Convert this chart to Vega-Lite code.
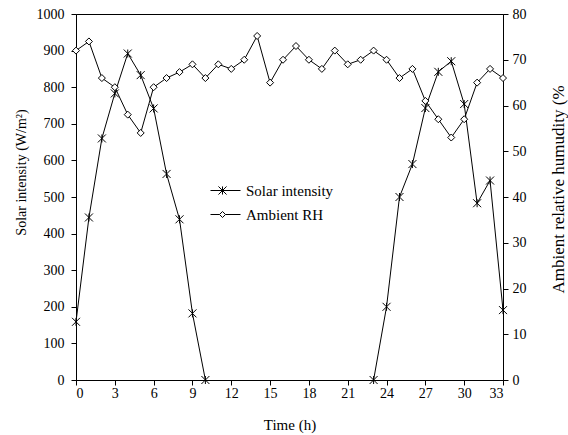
{
  "$schema": "https://vega.github.io/schema/vega-lite/v6.json",
  "width": 427,
  "height": 366,
  "autosize": {"type": "none"},
  "padding": {"left": 76, "top": 14, "right": 65, "bottom": 55},
  "background": "white",
  "config": {
    "font": "Liberation Serif, serif",
    "view": {"stroke": "black", "strokeWidth": 1},
    "style": {
      "guide-label": {"font": "Liberation Serif, serif"},
      "guide-title": {"font": "Liberation Serif, serif"}
    },
    "axis": {
      "grid": false,
      "labelColor": "black",
      "titleColor": "black",
      "domainColor": "black",
      "tickColor": "black",
      "domainWidth": 1,
      "tickWidth": 1,
      "tickSize": 5
    },
    "legend": {
      "labelFont": "Liberation Serif, serif",
      "labelFontSize": 15,
      "labelColor": "black"
    }
  },
  "data": {
    "values": [
      {"hour": 0, "solar": 159, "rh": 72},
      {"hour": 1, "solar": 444, "rh": 74},
      {"hour": 2, "solar": 660, "rh": 66},
      {"hour": 3, "solar": 783, "rh": 64},
      {"hour": 4, "solar": 892, "rh": 58},
      {"hour": 5, "solar": 833, "rh": 54},
      {"hour": 6, "solar": 742, "rh": 64},
      {"hour": 7, "solar": 563, "rh": 66},
      {"hour": 8, "solar": 439, "rh": 67.3},
      {"hour": 9, "solar": 182, "rh": 69},
      {"hour": 10, "solar": 0, "rh": 66},
      {"hour": 11, "solar": null, "rh": 69},
      {"hour": 12, "solar": null, "rh": 68},
      {"hour": 13, "solar": null, "rh": 70},
      {"hour": 14, "solar": null, "rh": 75.2},
      {"hour": 15, "solar": null, "rh": 65},
      {"hour": 16, "solar": null, "rh": 70},
      {"hour": 17, "solar": null, "rh": 73},
      {"hour": 18, "solar": null, "rh": 70},
      {"hour": 19, "solar": null, "rh": 68},
      {"hour": 20, "solar": null, "rh": 72},
      {"hour": 21, "solar": null, "rh": 69},
      {"hour": 22, "solar": null, "rh": 70},
      {"hour": 23, "solar": 0, "rh": 72},
      {"hour": 24, "solar": 200, "rh": 70},
      {"hour": 25, "solar": 500, "rh": 66},
      {"hour": 26, "solar": 590, "rh": 68},
      {"hour": 27, "solar": 743, "rh": 61},
      {"hour": 28, "solar": 842, "rh": 57},
      {"hour": 29, "solar": 871, "rh": 53},
      {"hour": 30, "solar": 754, "rh": 57},
      {"hour": 31, "solar": 483, "rh": 65},
      {"hour": 32, "solar": 545, "rh": 68},
      {"hour": 33, "solar": 191, "rh": 66}
    ]
  },
  "encoding": {
    "x": {
      "field": "hour",
      "type": "quantitative",
      "scale": {"domain": [0, 33], "nice": false, "zero": false},
      "axis": {
        "values": [0, 3, 6, 9, 12, 15, 18, 21, 24, 27, 30, 33],
        "title": "Time (h)",
        "labelFont": "Liberation Serif, serif",
        "titleFont": "Liberation Serif, serif",
        "labelFontSize": 14,
        "titleFontSize": 15,
        "titleFontWeight": "normal",
        "labelPadding": 1,
        "titleY": 37,
        "titleBaseline": "top"
      }
    }
  },
  "layer": [
    {
      "encoding": {
        "y": {
          "field": "solar",
          "type": "quantitative",
          "scale": {"domain": [0, 1000], "nice": false},
          "axis": {
            "orient": "left",
            "values": [0, 100, 200, 300, 400, 500, 600, 700, 800, 900, 1000],
            "format": "d",
            "title": "Solar intensity (W/m²)",
            "labelFont": "Liberation Serif, serif",
            "titleFont": "Liberation Serif, serif",
            "labelFontSize": 14,
            "titleFontSize": 14,
            "titleFontWeight": "normal",
            "labelPadding": 7,
            "titleX": -48,
            "titleY": 158,
            "titleBaseline": "bottom"
          }
        }
      },
      "layer": [
        {
          "mark": {"type": "line", "color": "black", "strokeWidth": 1},
          "encoding": {
            "stroke": {
              "datum": "Solar intensity",
              "type": "nominal",
              "scale": {"domain": ["Solar intensity", "Ambient RH"], "range": ["black", "black"]},
              "legend": {
                "title": null,
                "orient": "none",
                "legendX": 134,
                "legendY": 161,
                "symbolSize": 900,
                "symbolStrokeWidth": 1,
                "symbolStrokeColor": "black",
                "labelOffset": 5,
                "rowPadding": -8,
                "encode": {
                  "symbols": {
                    "update": {
                      "shape": {"signal": "datum.value === 'Solar intensity' ? 'M-1,0L1,0M-0.47,-0.27L0.07,0.27M-0.47,0.27L0.07,-0.27M-0.2,-0.27L-0.2,0.27' : 'M-1,0L-0.4,0M0,0L1,0M-0.4,0L-0.2,-0.2L0,0L-0.2,0.2Z'"},
                      "fill": {"value": "white"},
                      "stroke": {"value": "black"}
                    }
                  }
                }
              }
            }
          }
        },
        {
          "mark": {
            "type": "point",
            "shape": "M-1,-1L1,1M-1,1L1,-1M0,-1L0,1",
            "size": 64,
            "filled": false,
            "stroke": "black",
            "strokeWidth": 1,
            "opacity": 1
          }
        }
      ]
    },
    {
      "encoding": {
        "y": {
          "field": "rh",
          "type": "quantitative",
          "scale": {"domain": [0, 80], "nice": false},
          "axis": {
            "orient": "right",
            "values": [0, 10, 20, 30, 40, 50, 60, 70, 80],
            "title": "Ambient relative humudity (%",
            "labelFont": "Liberation Serif, serif",
            "titleFont": "Liberation Serif, serif",
            "labelFontSize": 14,
            "titleFontSize": 17,
            "titleFontWeight": "normal",
            "labelPadding": 4,
            "titleAngle": -90,
            "titleX": 60,
            "titleY": 175,
            "titleBaseline": "alphabetic"
          }
        }
      },
      "layer": [
        {
          "mark": {"type": "line", "color": "black", "strokeWidth": 1},
          "encoding": {
            "stroke": {"datum": "Ambient RH", "type": "nominal"}
          }
        },
        {
          "mark": {
            "type": "point",
            "shape": "diamond",
            "size": 49,
            "filled": true,
            "fill": "white",
            "stroke": "black",
            "strokeWidth": 1,
            "opacity": 1
          }
        }
      ]
    }
  ],
  "resolve": {"scale": {"y": "independent"}}
}
